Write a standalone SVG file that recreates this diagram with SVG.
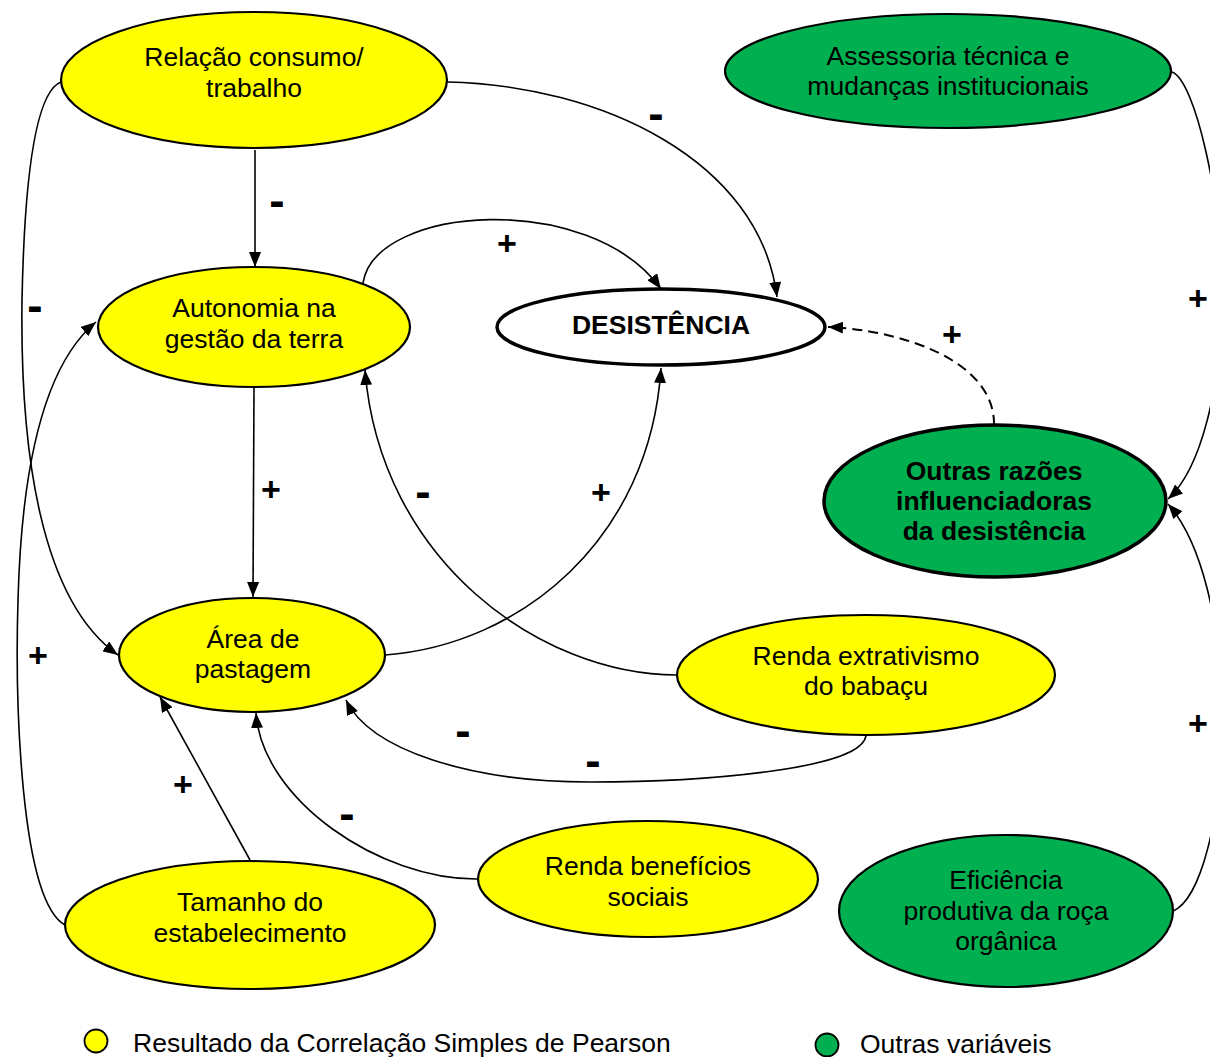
<svg xmlns="http://www.w3.org/2000/svg" width="1210" height="1057" viewBox="0 0 1210 1057">
<defs>
<style>
text{font-family:"Liberation Sans",Arial,sans-serif;fill:#000}
.n{font-size:26.5px;text-anchor:middle}
.b{font-size:26.5px;font-weight:bold;text-anchor:middle}
.y{fill:#FFFF00;stroke:#000;stroke-width:2.2}
.g{fill:#00B050;stroke:#000;stroke-width:2.2}
.w{fill:#fff;stroke:#000;stroke-width:3.5}
.gt{fill:#00B050;stroke:#000;stroke-width:3.5}
.c{fill:none;stroke:#000;stroke-width:1.6;marker-end:url(#ah)}
.d{fill:none;stroke:#000;stroke-width:2;stroke-dasharray:10 6;marker-end:url(#ah)}
.p{font-size:34px;font-weight:bold;text-anchor:middle}
.m{font-size:46px;font-weight:bold;text-anchor:middle}
.lg{font-size:26.5px}
</style>
<marker id="ah" markerUnits="userSpaceOnUse" markerWidth="15" markerHeight="12" viewBox="0 0 15 12" refX="15" refY="6" orient="auto">
<path d="M0,0 L15,6 L0,12 z" fill="#000"/>
</marker>
</defs>
<rect width="1210" height="1057" fill="#fff"/>

<g id="connectors">
<path class="c" d="M255,150 L255,267"/>
<path class="c" d="M447,82 C600,85 760,160 777,297"/>
<path class="c" d="M61,82 C40,90 25,150 22,300 C20,450 40,600 118,655"/>
<path class="c" d="M363,283 C375,205 590,190 661,289"/>
<path class="c" d="M254,388 L253,597"/>
<path class="c" d="M385,655 C520,645 650,540 661,368"/>
<path class="c" d="M677,675 C540,675 380,560 365,370"/>
<path class="c" d="M866,736 C860,770 700,782 590,782 C470,782 370,750 346,700"/>
<path class="c" d="M478,879 C380,880 262,800 256,713"/>
<path class="c" d="M250,860 L160,697"/>
<path class="c" d="M65,925 C20,900 15,700 18,600 C22,450 50,360 96,322"/>
<path class="c" d="M1172,72 C1195,80 1222,200 1222,290 C1222,390 1200,470 1168,499"/>
<path class="c" d="M1173,911 C1200,900 1222,820 1222,720 C1222,620 1200,540 1168,504"/>
<path class="d" d="M994,425 C995,360 900,330 828,327"/>
</g>

<g id="labels">
<text class="m" x="277" y="216">-</text>
<text class="m" x="656" y="129">-</text>
<text class="m" x="35" y="321">-</text>
<text class="p" x="507" y="255">+</text>
<text class="p" x="271" y="501">+</text>
<text class="p" x="601" y="504">+</text>
<text class="m" x="423" y="507">-</text>
<text class="m" x="463" y="746">-</text>
<text class="m" x="593" y="776">-</text>
<text class="m" x="347" y="829">-</text>
<text class="p" x="183" y="796">+</text>
<text class="p" x="38" y="667">+</text>
<text class="p" x="952" y="346">+</text>
<text class="p" x="1198" y="310">+</text>
<text class="p" x="1198" y="735">+</text>
</g>

<g id="relacao">
<ellipse class="y" cx="254" cy="80" rx="193" ry="68"/>
<text class="n" x="254" y="66">Relação consumo/</text>
<text class="n" x="254" y="97">trabalho</text>
</g>
<g id="assessoria">
<ellipse class="g" cx="948" cy="71" rx="223" ry="57"/>
<text class="n" x="948" y="65">Assessoria técnica e</text>
<text class="n" x="948" y="95">mudanças institucionais</text>
</g>
<g id="autonomia">
<ellipse class="y" cx="254" cy="327" rx="156" ry="60"/>
<text class="n" x="254" y="317">Autonomia na</text>
<text class="n" x="254" y="348">gestão da terra</text>
</g>
<g id="desistencia">
<ellipse class="w" cx="661" cy="327" rx="164" ry="38"/>
<text class="b" x="661" y="334">DESISTÊNCIA</text>
</g>
<g id="outras">
<ellipse class="gt" cx="995" cy="501" rx="171" ry="76"/>
<text class="b" x="994" y="480">Outras razões</text>
<text class="b" x="994" y="510">influenciadoras</text>
<text class="b" x="994" y="540">da desistência</text>
</g>
<g id="area">
<ellipse class="y" cx="252" cy="655" rx="133" ry="57"/>
<text class="n" x="253" y="648">Área de</text>
<text class="n" x="253" y="678">pastagem</text>
</g>
<g id="extrativismo">
<ellipse class="y" cx="866" cy="675" rx="189" ry="60"/>
<text class="n" x="866" y="665">Renda extrativismo</text>
<text class="n" x="866" y="695">do babaçu</text>
</g>
<g id="beneficios">
<ellipse class="y" cx="648" cy="879" rx="170" ry="58"/>
<text class="n" x="648" y="875">Renda benefícios</text>
<text class="n" x="648" y="906">sociais</text>
</g>
<g id="tamanho">
<ellipse class="y" cx="250" cy="925" rx="185" ry="64"/>
<text class="n" x="250" y="911">Tamanho do</text>
<text class="n" x="250" y="942">estabelecimento</text>
</g>
<g id="eficiencia">
<ellipse class="g" cx="1006" cy="911" rx="167" ry="76"/>
<text class="n" x="1006" y="889">Eficiência</text>
<text class="n" x="1006" y="920">produtiva da roça</text>
<text class="n" x="1006" y="950">orgânica</text>
</g>

<g id="legend">
<circle cx="96" cy="1041" r="11.5" fill="#FFFF00" stroke="#000" stroke-width="1.8"/>
<text class="lg" x="133" y="1052">Resultado da Correlação Simples de Pearson</text>
<circle cx="827" cy="1045" r="11.5" fill="#00B050" stroke="#000" stroke-width="1.8"/>
<text class="lg" x="860" y="1053">Outras variáveis</text>
</g>
</svg>
